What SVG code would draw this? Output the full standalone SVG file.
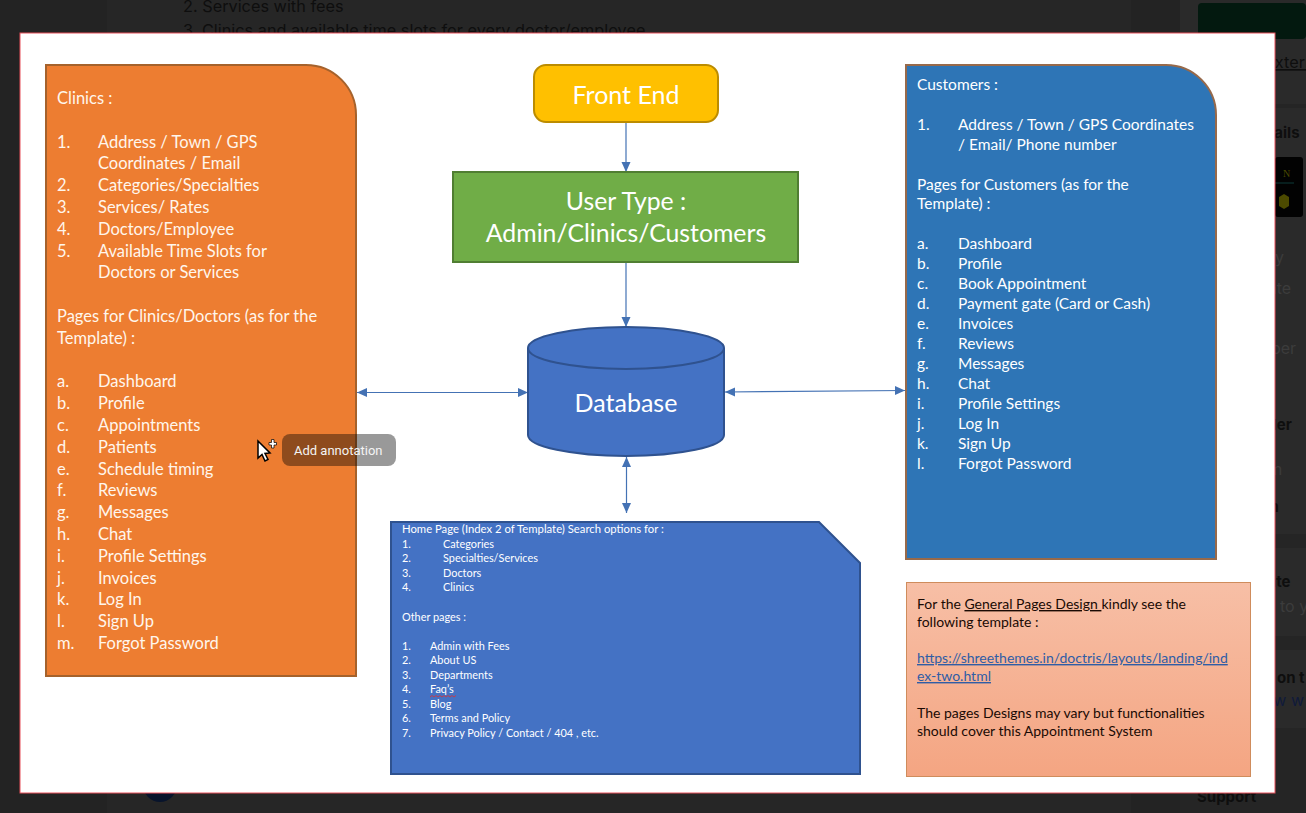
<svg xmlns="http://www.w3.org/2000/svg" width="1306" height="813" viewBox="0 0 1306 813">
<style>
text{font-family:Lato,"Noto Sans",sans-serif}
.bg{font-family:Inter,Roboto,sans-serif;fill:#0e0e0e;font-size:16.3px}
.dim{font-family:Inter,Roboto,sans-serif;fill:#3c3c3c;font-size:16px}
.bgb{font-family:Inter,Roboto,sans-serif;fill:#0e0e0e;font-size:15px;font-weight:700}
.o{font-size:16.500px;fill:#fff6ec}
.c{font-size:15.500px;fill:#fff}
.h{font-size:10.900px;fill:#fff}
.p{font-size:14px;fill:#1a0a04}
.l{fill:#2f5da6}
.t{fill:#fff;text-anchor:middle}
.conn{stroke:#4472b4;stroke-width:1.2;fill:none;marker-end:url(#a)}
.both{marker-start:url(#b)}
</style>
<defs>
<marker id="a" markerWidth="11" markerHeight="10" refX="10" refY="4.500" orient="auto" markerUnits="userSpaceOnUse"><path d="M0 0L10 4.500L0 9z" fill="#4472b4"/></marker>
<marker id="b" markerWidth="11" markerHeight="10" refX="0" refY="4.500" orient="auto" markerUnits="userSpaceOnUse"><path d="M10 0L0 4.500L10 9z" fill="#4472b4"/></marker>
<linearGradient id="pg" x1="0" y1="0" x2="0" y2="1"><stop offset="0" stop-color="#f7bfa6"/><stop offset="1" stop-color="#f4a582"/></linearGradient>
</defs>
<g id="backdrop">
<rect width="1306" height="813" fill="#232323"/>
<rect x="107" y="0" width="1024" height="813" fill="#262626"/>
<rect x="1180" y="0" width="126" height="813" fill="#2a2a2a"/>
<rect x="1180" y="104" width="126" height="4" fill="#252525"/>
<rect x="1180" y="534" width="126" height="14" fill="#252525"/>
<rect x="1180" y="636" width="126" height="14" fill="#252525"/>
<rect x="1180" y="728" width="126" height="85" fill="#252525"/>
<rect x="1198" y="3" width="108" height="36" rx="4" fill="#03190f"/>
<rect x="1275" y="157" width="28" height="60" rx="3" fill="#020202"/>
<path d="M1275 183H1294" stroke="#0c3a38" stroke-width="1"/>
<path d="M1279 197l5-3l5 3v9l-5 3l-5-3z" fill="#4c4a00"/>
<circle cx="160" cy="785" r="17" fill="#08142c"/>
<text class="bg" x="183" y="12">2. Services with fees</text>
<text class="bg" x="183" y="36">3. Clinics and available time slots for every doctor/employee</text>
<text class="bg" x="1265" y="68" text-decoration="underline">External</text>
<text class="bgb" x="1249" y="138">Details</text>
<text x="1283" y="177" font-size="10" fill="#4c4a00" style="font-family:'Liberation Serif',serif">N</text>
<text class="dim" x="1275" y="263">y</text>
<text class="dim" x="1258" y="294">date</text>
<text class="dim" x="1238" y="354">number</text>
<text class="bgb" x="1250" y="430">Order</text>
<text class="dim" x="1215" y="475">requirem</text>
<text class="bgb" x="1220" y="512">Order in</text>
<text class="bgb" x="1258" y="587">date</text>
<text class="dim" x="1280" y="612">to y</text>
<text class="bgb" x="1277" y="683">on t</text>
<text class="dim" x="1264" y="706" style="fill:#101a3a">ow w</text>
<text class="bgb" x="1197" y="802">Support</text>
</g>
<rect id="page" x="20" y="33" width="1255" height="760" fill="#fff" stroke="#e8505b" stroke-width="1"/>
<g id="connectors">
<path class="conn" d="M626 122V172"/>
<path class="conn" d="M626 262V327"/>
<path class="conn both" d="M357 392.500H528"/>
<path class="conn both" d="M725 392L905 390.500"/>
<path class="conn both" d="M626.500 457V513"/>
</g>
<g id="clinics">
<path d="M46 65H306A50 50 0 0 1 356 115V676H46z" fill="#ed7d31" stroke="#a5622c" stroke-width="2"/>
<text class="o" x="57" y="104">Clinics :</text>
<text class="o" x="57" y="148">1.</text><text class="o" x="98" y="148">Address / Town / GPS</text>
<text class="o" x="98" y="169">Coordinates / Email</text>
<text class="o" x="57" y="191">2.</text><text class="o" x="98" y="191">Categories/Specialties</text>
<text class="o" x="57" y="213">3.</text><text class="o" x="98" y="213">Services/ Rates</text>
<text class="o" x="57" y="235">4.</text><text class="o" x="98" y="235">Doctors/Employee</text>
<text class="o" x="57" y="257">5.</text><text class="o" x="98" y="257">Available Time Slots for</text>
<text class="o" x="98" y="278">Doctors or Services</text>
<text class="o" x="57" y="322">Pages for Clinics/Doctors (as for the</text>
<text class="o" x="57" y="344">Template)  :</text>
<text class="o" x="57" y="387">a.</text><text class="o" x="98" y="387">Dashboard</text>
<text class="o" x="57" y="409">b.</text><text class="o" x="98" y="409">Profile</text>
<text class="o" x="57" y="431">c.</text><text class="o" x="98" y="431">Appointments</text>
<text class="o" x="57" y="453">d.</text><text class="o" x="98" y="453">Patients</text>
<text class="o" x="57" y="475">e.</text><text class="o" x="98" y="475">Schedule timing</text>
<text class="o" x="57" y="496">f.</text><text class="o" x="98" y="496">Reviews</text>
<text class="o" x="57" y="518">g.</text><text class="o" x="98" y="518">Messages</text>
<text class="o" x="57" y="540">h.</text><text class="o" x="98" y="540">Chat</text>
<text class="o" x="57" y="562">i.</text><text class="o" x="98" y="562">Profile Settings</text>
<text class="o" x="57" y="584">j.</text><text class="o" x="98" y="584">Invoices</text>
<text class="o" x="57" y="605">k.</text><text class="o" x="98" y="605">Log In</text>
<text class="o" x="57" y="627">l.</text><text class="o" x="98" y="627">Sign Up</text>
<text class="o" x="57" y="649">m.</text><text class="o" x="98" y="649">Forgot Password</text>
</g>
<g id="front-end">
<rect x="534" y="65" width="184" height="57" rx="12" fill="#ffc000" stroke="#bc8c00" stroke-width="2"/>
<text class="t" x="626" y="104" font-size="25">Front End</text>
</g>
<g id="user-type">
<rect x="453" y="172" width="345" height="90" fill="#70ad47" stroke="#507e32" stroke-width="2"/>
<text class="t" x="626" y="210" font-size="24.800">User Type :</text>
<text class="t" x="626" y="242" font-size="24.800">Admin/Clinics/Customers</text>
</g>
<g id="database">
<path d="M528 348V435A98 21 0 0 0 724 435V348" fill="#4472c4" stroke="#2f528f" stroke-width="2"/>
<ellipse cx="626" cy="348" rx="98" ry="21" fill="#4472c4" stroke="#2f528f" stroke-width="2"/>
<text class="t" x="626" y="412" font-size="25">Database</text>
</g>
<g id="customers">
<path d="M906 65H1166A50 50 0 0 1 1216 115V559H906z" fill="#2e75b6" stroke="#97694a" stroke-width="2"/>
<text class="c" x="917" y="90">Customers :</text>
<text class="c" x="917" y="130">1.</text><text class="c" x="958" y="130">Address / Town / GPS Coordinates</text>
<text class="c" x="958" y="150">/ Email/ Phone number</text>
<text class="c" x="917" y="190">Pages for Customers (as for the</text>
<text class="c" x="917" y="209">Template)  :</text>
<text class="c" x="917" y="249">a.</text><text class="c" x="958" y="249">Dashboard</text>
<text class="c" x="917" y="269">b.</text><text class="c" x="958" y="269">Profile</text>
<text class="c" x="917" y="289">c.</text><text class="c" x="958" y="289">Book Appointment</text>
<text class="c" x="917" y="309">d.</text><text class="c" x="958" y="309">Payment gate (Card or Cash)</text>
<text class="c" x="917" y="329">e.</text><text class="c" x="958" y="329">Invoices</text>
<text class="c" x="917" y="349">f.</text><text class="c" x="958" y="349">Reviews</text>
<text class="c" x="917" y="369">g.</text><text class="c" x="958" y="369">Messages</text>
<text class="c" x="917" y="389">h.</text><text class="c" x="958" y="389">Chat</text>
<text class="c" x="917" y="409">i.</text><text class="c" x="958" y="409">Profile Settings</text>
<text class="c" x="917" y="429">j.</text><text class="c" x="958" y="429">Log In</text>
<text class="c" x="917" y="449">k.</text><text class="c" x="958" y="449">Sign Up</text>
<text class="c" x="917" y="469">l.</text><text class="c" x="958" y="469">Forgot Password</text>
</g>
<g id="home-page">
<path d="M391 522H819L860 563V774H391z" fill="#4472c4" stroke="#2f528f" stroke-width="2"/>
<text class="h" x="402" y="533" font-size="11.300" style="font-size:11.300px">Home Page (Index 2 of Template) Search options for :</text>
<text class="h" x="402" y="548">1.</text><text class="h" x="443" y="548">Categories</text>
<text class="h" x="402" y="562">2.</text><text class="h" x="443" y="562">Specialties/Services</text>
<text class="h" x="402" y="577">3.</text><text class="h" x="443" y="577">Doctors</text>
<text class="h" x="402" y="591">4.</text><text class="h" x="443" y="591">Clinics</text>
<text class="h" x="402" y="621">Other pages :</text>
<text class="h" x="402" y="650">1.</text><text class="h" x="430" y="650">Admin with Fees</text>
<text class="h" x="402" y="664">2.</text><text class="h" x="430" y="664">About US</text>
<text class="h" x="402" y="679">3.</text><text class="h" x="430" y="679">Departments</text>
<text class="h" x="402" y="693">4.</text><text class="h" x="430" y="693">Faq’s</text>
<path d="M430 697l2-1.500l2 1.500l2-1.500l2 1.500l2-1.500l2 1.500l2-1.500l2 1.500l2-1.500l2 1.500l2-1.500l2 1.500l2-1.500" fill="none" stroke="#e03030" stroke-width=".8"/>
<text class="h" x="402" y="708">5.</text><text class="h" x="430" y="708">Blog</text>
<text class="h" x="402" y="722">6.</text><text class="h" x="430" y="722">Terms and Policy</text>
<text class="h" x="402" y="737">7.</text><text class="h" x="430" y="737">Privacy Policy / Contact / 404 , etc.</text>
</g>
<g id="template-note">
<rect x="906.500" y="582.500" width="344" height="194" fill="url(#pg)" stroke="#cf8c5c" stroke-width="1"/>
<text class="p" x="917" y="609">For the <tspan text-decoration="underline">General Pages Design </tspan>kindly see the</text>
<text class="p" x="917" y="627">following template :</text>
<text class="p l" x="917" y="663" text-decoration="underline">https://shreethemes.in/doctris/layouts/landing/ind</text>
<text class="p l" x="917" y="681" text-decoration="underline">ex-two.html</text>
<text class="p" x="917" y="718">The pages Designs may vary but functionalities</text>
<text class="p" x="917" y="736">should cover this Appointment System</text>
</g>
<g id="annotation">
<path d="M258 441V458L262 454.500L265 461L268 459.500L265 453.500L270 453z" fill="#fff" stroke="#000" stroke-width="1.500"/>
<path d="M269 442.500h2.500v-3h2.500v3h2.500v2.500h-2.500v3h-2.500v-3h-2.500z" fill="#fff" stroke="#000" stroke-width=".7"/>
<rect x="282" y="434" width="114" height="32" rx="8" fill="#000" fill-opacity=".4"/>
<text x="294" y="455" font-size="13" fill="#f4f4f4" style="font-family:Roboto,sans-serif">Add annotation</text>
</g>
</svg>
